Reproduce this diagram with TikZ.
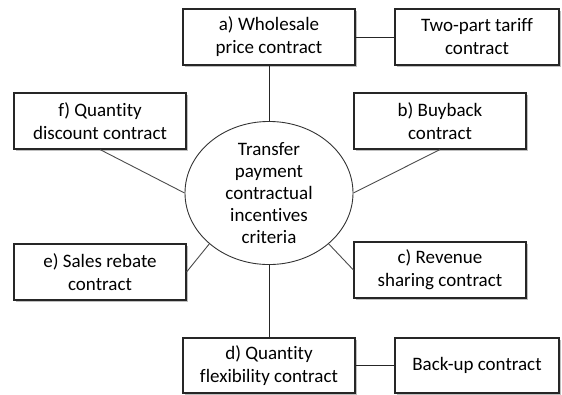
\documentclass[tikz,border=0pt]{standalone}
\usepackage{fontspec}
\setmainfont{Carlito}[Ligatures=NoCommon]
\usetikzlibrary{shadows,shapes.geometric}

\begin{document}
\begin{tikzpicture}[x=1pt,y=-1pt,
  box/.style={draw=black!85, line width=1.1pt, fill=white, align=center,
    inner sep=0pt, minimum width=172pt, minimum height=56pt,
    font=\fontsize{19}{23}\selectfont,
    drop shadow={shadow xshift=1.5pt, shadow yshift=-1.5pt, opacity=0.25, fill=black}},
  hub/.style={draw=black!80, line width=0.9pt, ellipse, fill=white, align=center,
    inner sep=0pt, minimum width=168pt, minimum height=140pt,
    font=\fontsize{19}{22}\selectfont},
  link/.style={draw=black!85, line width=1pt},
  spoke/.style={draw=black!70, line width=0.9pt}]
  \useasboundingbox (0,0) rectangle (562,394);

  % central criteria
  \node[hub] (ell) at (269,193) {Transfer\\payment\\contractual\\incentives\\criteria};

  % contract types
  \node[box] (a) at (269,37) {a) Wholesale\\price contract};
  \node[box, minimum width=164pt] (two) at (477,37) {Two-part tariff\\contract};
  \node[box] (f) at (100,121) {f) Quantity\\discount contract};
  \node[box] (b) at (440,121) {b) Buyback\\contract};
  \node[box] (e) at (100,272) {e) Sales rebate\\contract};
  \node[box] (c) at (440,270) {c) Revenue\\sharing contract};
  \node[box, minimum height=55pt] (d) at (269,365.5) {d) Quantity\\flexibility contract};
  \node[box, minimum width=164pt, minimum height=55pt] (bk) at (477,365.5) {Back-up contract};

  % connectors
  \draw[link] (a.south) -- (ell.north);
  \draw[link] (a.east) -- (two.west);
  \draw[link] (ell.south) -- (d.north);
  \draw[link] (d.east) -- (bk.west);
  \draw[spoke] (f.south) -- (ell.west);
  \draw[spoke] (b.south) -- (ell.east);
  \draw[spoke] (e.east) -- (ell.south west);
  \draw[spoke] (c.west) -- (ell.south east);
\end{tikzpicture}
\end{document}
